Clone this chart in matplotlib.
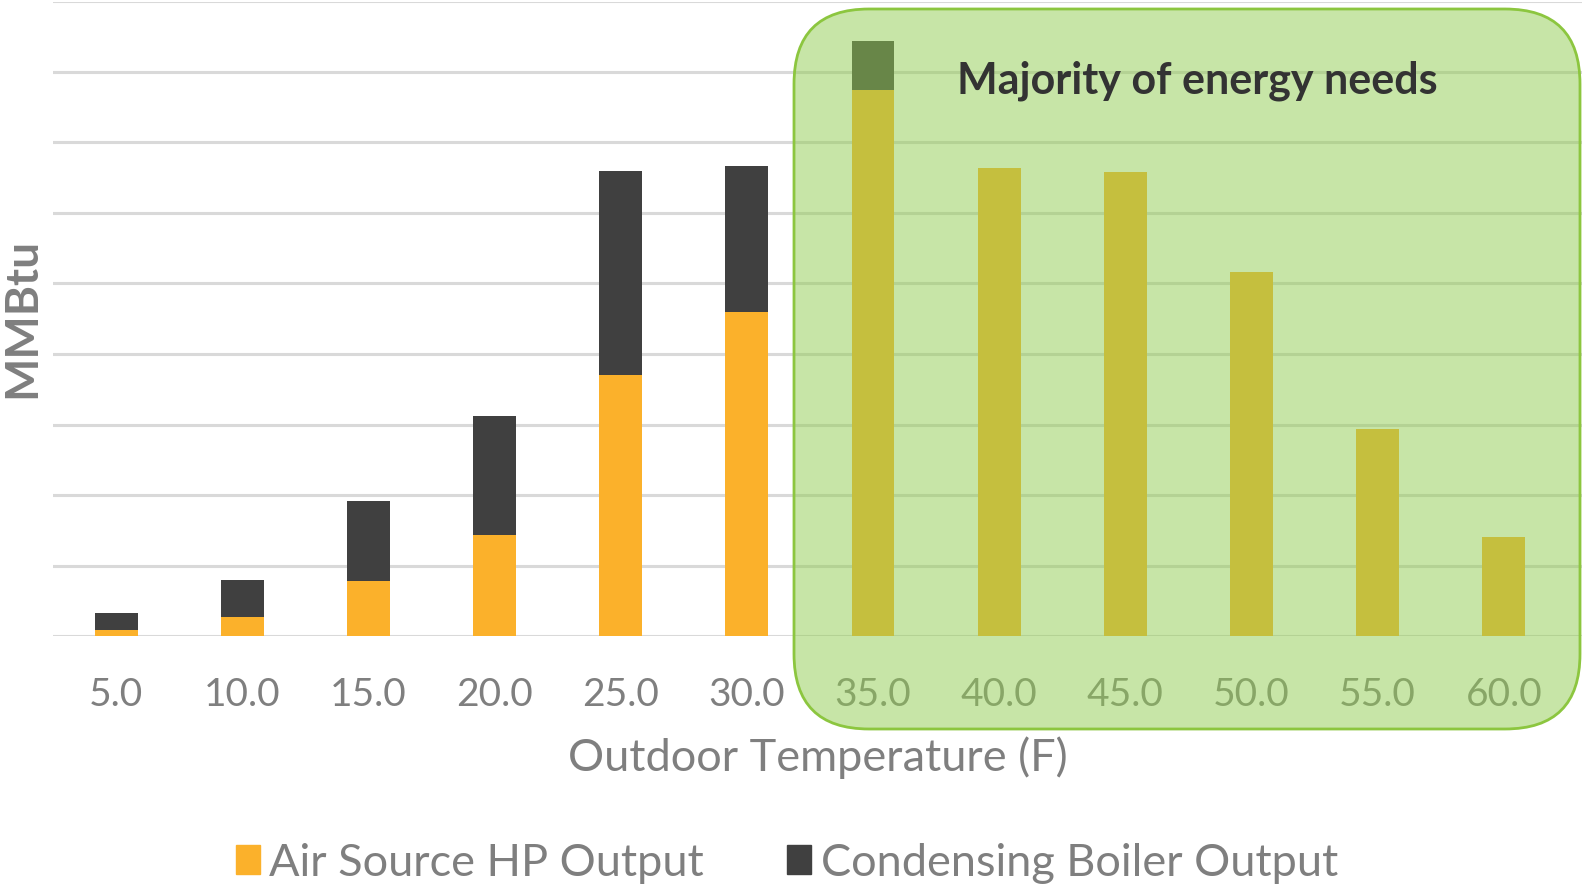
import matplotlib
matplotlib.use("Agg")
import matplotlib.pyplot as plt
from matplotlib.patches import FancyBboxPatch, Patch
import numpy as np

plt.rcParams["font.family"] = ["Lato", "DejaVu Sans"]

# outdoor temperature bins and heat delivered per source
temps = ["5.0", "10.0", "15.0", "20.0", "25.0", "30.0",
         "35.0", "40.0", "45.0", "50.0", "55.0", "60.0"]
hp_output = [0.85, 2.7, 7.8, 14.3, 37.0, 46.0, 77.4, 66.4, 65.8, 51.6, 29.3, 14.1]
boiler_output = [2.4, 5.2, 11.3, 16.9, 29.0, 20.6, 7.0, 0, 0, 0, 0, 0]

HP_COLOR = "#FBB12B"
BOILER_COLOR = "#404040"
GRAY = "#7F7F7F"

W, H = 1582, 886
fig = plt.figure(figsize=(W / 100, H / 100), dpi=100)
ax = fig.add_axes([53 / W, (H - 636) / H, (W - 53) / W, 634.5 / H])

x = np.arange(len(temps))
ax.bar(x, hp_output, width=0.34, color=HP_COLOR, zorder=2)
ax.bar(x, boiler_output, width=0.34, bottom=hp_output, color=BOILER_COLOR, zorder=2)

ax.set_xlim(-0.5, 11.62)
ax.set_ylim(0, 90)
ax.set_yticks(np.arange(0, 91, 10))
ax.yaxis.grid(True, color="#D9D9D9", linewidth=2.2, zorder=0)
ax.set_axisbelow(True)
ax.tick_params(axis="y", left=False, labelleft=False)
ax.tick_params(axis="x", bottom=False, labelsize=28, labelcolor=GRAY, pad=26)
ax.set_xticks(x)
ax.set_xticklabels(temps)
for s in ax.spines.values():
    s.set_visible(False)

ax.set_xlabel("Outdoor Temperature (F)", fontsize=32.5, color=GRAY, labelpad=17)
fig.text(22 / W, 1 - 318 / H, "MMBtu", rotation=90, fontsize=33, fontweight="bold",
         color=GRAY, ha="center", va="center")

# highlight box over the milder temperatures
box_xy, box_w, box_h = (7.94, 1.57), 7.86, 7.20
box = FancyBboxPatch(box_xy, box_w, box_h,
                     boxstyle="round,pad=0,rounding_size=0.75",
                     transform=fig.dpi_scale_trans, facecolor="#91CD51",
                     alpha=0.5, edgecolor="none", zorder=3)
fig.add_artist(box)
edge = FancyBboxPatch(box_xy, box_w, box_h,
                      boxstyle="round,pad=0,rounding_size=0.75",
                      transform=fig.dpi_scale_trans, facecolor="none",
                      edgecolor="#8CC63F", linewidth=2, zorder=4)
fig.add_artist(edge)
fig.text(1197 / W, 1 - 81 / H, "Majority of energy needs", fontsize=31,
         fontweight="bold", color="#333333", ha="center", va="center", zorder=5)

handles = [Patch(color=HP_COLOR, label="Air Source HP Output"),
           Patch(color=BOILER_COLOR, label="Condensing Boiler Output")]
fig.legend(handles=handles, loc="center", bbox_to_anchor=(787 / W, 1 - 863 / H),
           ncol=2, frameon=False, fontsize=32.5, labelcolor=GRAY,
           handlelength=0.53, handleheight=0.6, handletextpad=0.22,
           columnspacing=1.84)

fig.savefig("out.png", dpi=100)
